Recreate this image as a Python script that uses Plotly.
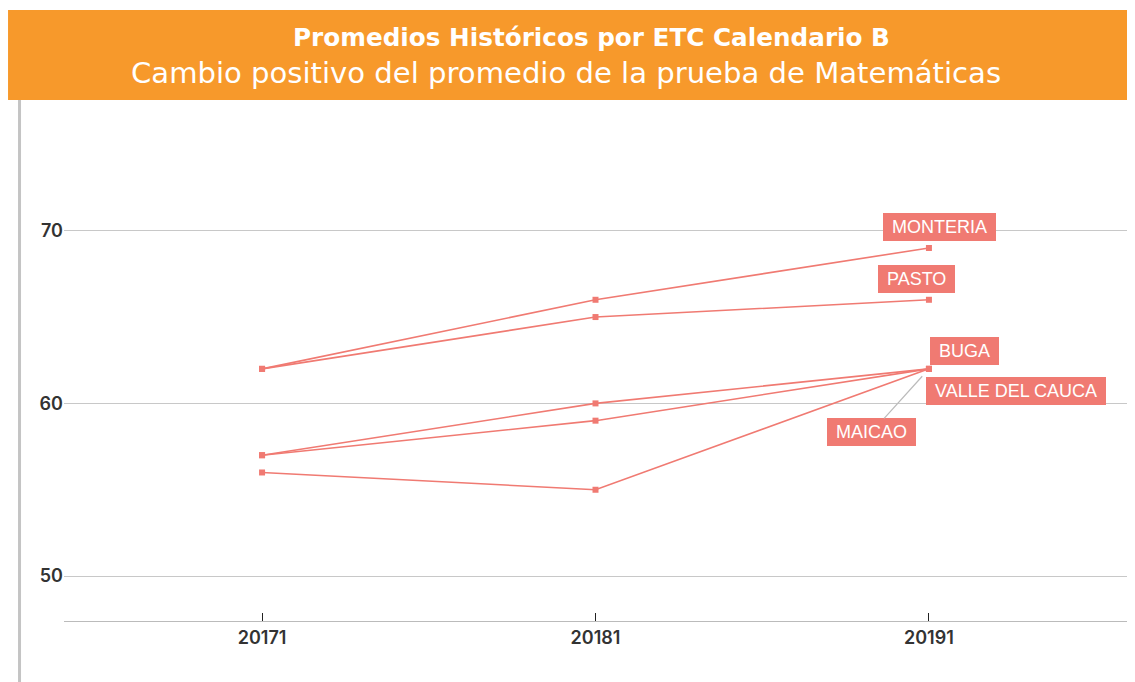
import plotly.graph_objects as go

periods = ["20171", "20181", "20191"]
series_names = ["MONTERIA", "PASTO", "BUGA", "VALLE DEL CAUCA", "MAICAO"]
monteria = [62, 66, 69]
pasto = [62, 65, 66]
buga = [57, 60, 62]
valle = [57, 59, 62]
maicao = [56, 55, 62]
y_ticks = [50, 60, 70]

series_values = [monteria, pasto, buga, valle, maicao]
line_color = "#F07A72"
label_bg = "#F07A72"
tick_font = "Inter, Open Sans"
head_font = "DejaVu Sans"
label_font = dict(family="Liberation Sans, Arial", size=18, color="white")

fig = go.Figure()
for name, vals in zip(series_names, series_values):
    fig.add_trace(go.Scatter(
        x=periods, y=vals, mode="lines+markers", name=name,
        line=dict(color=line_color, width=1.6),
        marker=dict(symbol="square", size=6, color=line_color),
        showlegend=False,
    ))

last_idx = len(periods) - 1
label_shift = {
    "MONTERIA": (11, 21),
    "PASTO": (-12, 21),
    "BUGA": (36, 18),
    "VALLE DEL CAUCA": (87, -22),
}
for name, vals in zip(series_names, series_values):
    if name in label_shift:
        dx, dy = label_shift[name]
        fig.add_annotation(
            x=last_idx, y=vals[-1], text="&nbsp;" + name + "&nbsp;", showarrow=False,
            xshift=dx, yshift=dy, font=label_font,
            bgcolor=label_bg, borderpad=3, bordercolor=label_bg,
        )
    elif name == "MAICAO":
        fig.add_annotation(
            x=last_idx, y=vals[-1], text="&nbsp;" + name + "&nbsp;", showarrow=True,
            ax=-57, ay=63, arrowhead=0, arrowwidth=1.2, arrowcolor="#BBBBBB",
            standoff=10, font=label_font,
            bgcolor=label_bg, borderpad=3, bordercolor=label_bg,
        )

# header band
fig.add_shape(type="rect", xref="paper", yref="paper",
              x0=-0.0526, x1=1.01, y0=1.0296, y1=1.2075,
              fillcolor="#F7992B", line=dict(width=0), layer="below")
# left grey border
fig.add_shape(type="line", xref="paper", yref="paper",
              x0=-0.0418, x1=-0.0418, y0=-0.13, y1=1.0296,
              line=dict(color="#C4C4C4", width=3))

fig.add_annotation(xref="paper", yref="paper", x=0.4962, y=1.154,
                   xanchor="center", yanchor="middle",
                   text="<b>Promedios Históricos por ETC Calendario B</b>",
                   showarrow=False, font=dict(family=head_font, size=24.7, color="white"))
fig.add_annotation(xref="paper", yref="paper", x=0.4718, y=1.083,
                   xanchor="center", yanchor="middle",
                   text="Cambio positivo del promedio de la prueba de Matemáticas",
                   showarrow=False, font=dict(family=head_font, size=29.1, color="white"))

# page body has an 8px margin, so the figure is drawn 8px shorter/narrower
fig.update_layout(
    width=1127, height=674,
    margin=dict(l=56, r=7, t=107, b=61),
    paper_bgcolor="white", plot_bgcolor="white",
    xaxis=dict(type="category", range=[-0.594, 2.597],
               showgrid=False, showline=True, linecolor="#BBBBBB", linewidth=1,
               ticks="inside", ticklen=8, tickcolor="#222222", tickwidth=1,
               tickfont=dict(family=tick_font, size=18, color="#333333", weight=600),
               zeroline=False),
    yaxis=dict(range=[47.4, 76.7], tickvals=y_ticks,
               showgrid=True, gridcolor="#C8C8C8", gridwidth=1,
               showline=False, zeroline=False, ticks="",
               tickfont=dict(family=tick_font, size=18, color="#333333", weight=600)),
)

fig.write_html("out.html")
